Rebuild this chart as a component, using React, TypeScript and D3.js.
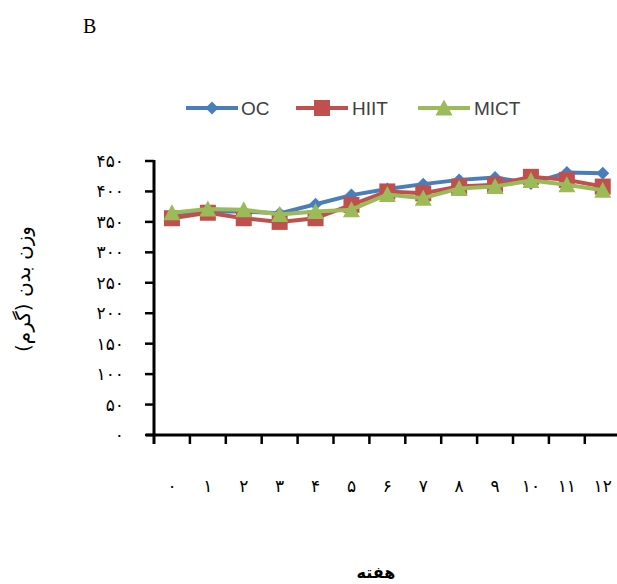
import React from "react";
import * as d3 from "d3";

const weeks = ["۰", "۱", "۲", "۳", "۴", "۵", "۶", "۷", "۸", "۹", "۱۰", "۱۱", "۱۲"];
const ocValues = [362, 367, 367, 364, 379, 394, 404, 412, 419, 423, 413, 431, 430];
const hiitValues = [356, 365, 356, 350, 356, 378, 400, 397, 408, 411, 424, 419, 408];
const mictValues = [365, 371, 370, 362, 367, 370, 395, 389, 405, 408, 418, 411, 402];
const yTicks = [0, 50, 100, 150, 200, 250, 300, 350, 400, 450];
const yTickLabels = ["۰", "۵۰", "۱۰۰", "۱۵۰", "۲۰۰", "۲۵۰", "۳۰۰", "۳۵۰", "۴۰۰", "۴۵۰"];
const seriesNames = ["OC", "HIIT", "MICT"];
const yTitle = "وزن بدن (گرم)";
const xTitle = "هفته";

const W = 617, H = 584;
const colors = ["#4A7EBB", "#C0504D", "#9BBB59"];

function Marker({ kind, x, y, color }: { kind: number; x: number; y: number; color: string }) {
  if (kind === 0) {
    const r = 6.5;
    return <path d={`M${x},${y - r}L${x + r},${y}L${x},${y + r}L${x - r},${y}Z`} fill={color} />;
  }
  if (kind === 1) {
    const s = 16;
    return <rect x={x - s / 2} y={y - s / 2} width={s} height={s} fill={color} />;
  }
  const w = 17, h = 15;
  return <path d={`M${x},${y - h / 2 - 1}L${x + w / 2},${y + h / 2}L${x - w / 2},${y + h / 2}Z`} fill={color} />;
}

export default function App() {
  const x0 = 154, bw = 35.9;
  const x = d3.scaleBand<number>().domain(d3.range(weeks.length)).range([x0, x0 + bw * weeks.length]).padding(0);
  const y = d3.scaleLinear().domain([0, 450]).range([435, 161]);
  const cx = (i: number) => (x(i) as number) + x.bandwidth() / 2;
  const line = d3.line<number>().x((_, i) => cx(i)).y((v) => y(v));
  const all = [ocValues, hiitValues, mictValues];

  const legendItems = [
    { lx: 186, tx: 241 },
    { lx: 296, tx: 352 },
    { lx: 418, tx: 474 },
  ];

  return (
    <svg width={W} height={H} style={{ position: "absolute", left: 0, top: 0 }}>
      <rect width={W} height={H} fill="#fff" />
      <text x={83} y={33} fontFamily="Liberation Serif, Times New Roman, serif" fontSize={20} fill="#000">B</text>

      {/* legend */}
      {legendItems.map((it, k) => (
        <g key={k}>
          <line x1={it.lx} x2={it.lx + 52} y1={108} y2={108} stroke={colors[k]} strokeWidth={4} />
          <Marker kind={k} x={it.lx + 26} y={108} color={colors[k]} />
          <text x={it.tx} y={115} fontFamily="Liberation Sans, Arial, sans-serif" fontSize={19} fill="#404040">
            {seriesNames[k]}
          </text>
        </g>
      ))}

      {/* axes */}
      <line x1={154} x2={154} y1={160} y2={444} stroke="#000" strokeWidth={3} />
      {yTicks.map((t, i) => (
        <g key={t}>
          <line x1={145} x2={154} y1={y(t)} y2={y(t)} stroke="#000" strokeWidth={2.5} />
          <text x={124} y={y(t) + 6} textAnchor="end" fontFamily="DejaVu Sans, sans-serif" fontSize={17} fill="#000" direction="ltr">
            {yTickLabels[i]}
          </text>
        </g>
      ))}
      <line x1={146} x2={W} y1={435} y2={435} stroke="#000" strokeWidth={3} />
      {d3.range(1, weeks.length + 1).map((i) => (
        <line key={i} x1={x0 + i * bw} x2={x0 + i * bw} y1={435} y2={444} stroke="#000" strokeWidth={2.5} />
      ))}
      {weeks.map((w, i) => (
        <text key={i} x={cx(i)} y={492} textAnchor="middle" fontFamily="DejaVu Sans, sans-serif" fontSize={17} fill="#000">
          {w}
        </text>
      ))}

      {/* series */}
      {all.map((vals, k) => (
        <g key={k}>
          <path d={line(vals) || ""} fill="none" stroke={colors[k]} strokeWidth={4} strokeLinejoin="round" />
          {vals.map((v, i) => (
            <Marker key={i} kind={k} x={cx(i)} y={y(v)} color={colors[k]} />
          ))}
        </g>
      ))}

      {/* titles */}
      <text transform={`translate(30,289) rotate(-90)`} textAnchor="middle" fontFamily="DejaVu Sans, sans-serif" fontSize={20} fill="#000">
        {yTitle}
      </text>
      <text x={376} y={578} textAnchor="middle" fontFamily="DejaVu Sans, sans-serif" fontSize={16} fontWeight="bold" fill="#000">
        {xTitle}
      </text>
    </svg>
  );
}
